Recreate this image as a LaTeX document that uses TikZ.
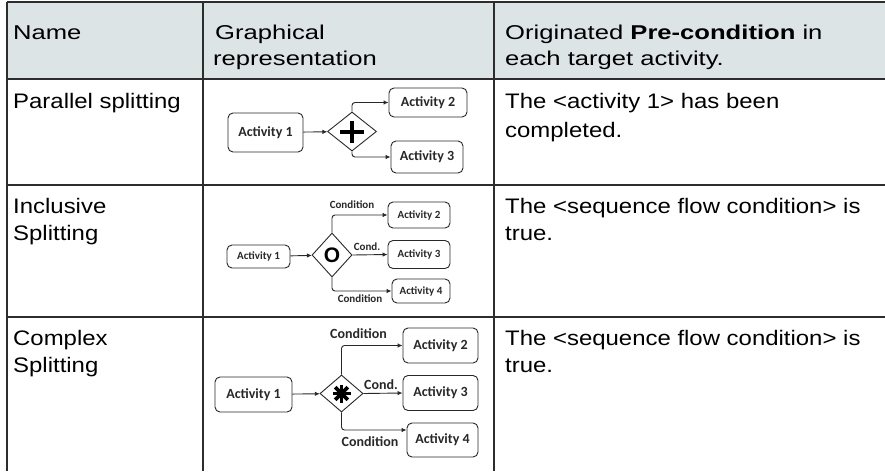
\documentclass[tikz,border=0pt]{standalone}
\usepackage{fontspec}
\setmainfont{Liberation Sans}
\newfontfamily\hdfont[FakeStretch=1.28]{Liberation Sans}
\newfontfamily\bdfont[FakeStretch=1.14]{Liberation Sans}
\newfontfamily\cbfont{Carlito}
\usetikzlibrary{shapes.geometric,arrows.meta}
\definecolor{hdr}{RGB}{221,228,230}
\definecolor{rulec}{RGB}{45,45,45}
\definecolor{ink}{RGB}{40,40,40}
\newcommand\dgA{\cbfont\bfseries\fontsize{14}{16}\selectfont}
\newcommand\dgB{\cbfont\bfseries\fontsize{11}{13}\selectfont}
\begin{document}
\begin{tikzpicture}[x=1pt,y=-1pt,
  hd/.style={anchor=base west,inner sep=0,font=\hdfont\fontsize{20}{24}\selectfont},
  bd/.style={anchor=base west,inner sep=0,font=\bdfont\fontsize{21}{25}\selectfont},
  act/.style={draw=ink,line width=0.9pt,rounded corners=5pt,inner sep=0,text=ink},
  gw/.style={draw=ink,line width=0.9pt,diamond,inner sep=0},
  lab/.style={inner sep=0,text=ink},
  flow/.style={draw=ink,line width=0.9pt,-{Latex[length=5pt,width=4.5pt]},rounded corners=3pt},
  tline/.style={draw=rulec,line width=1.4pt}]
\useasboundingbox (0,0) rectangle (885,471);
\fill[white] (0,0) rectangle (885,471);
\fill[hdr] (7,2) rectangle (885,79);
% table rules
\draw[tline] (7,2) -- (885,2);
\draw[tline] (7,79) -- (885,79);
\draw[tline] (7,185) -- (885,185);
\draw[tline] (7,317) -- (885,317);
\draw[tline] (7,2) -- (7,471);
\draw[tline] (203,2) -- (203,471);
\draw[tline] (494,2) -- (494,471);
% header
\node[hd] (h1) at (13,39) {Name};
\node[hd] (h2a) at (215,39) {Graphical};
\node[hd] (h2b) at (213,65) {representation};
\node[hd] (h3a) at (505,39) {Originated \textbf{Pre-condition} in};
\node[hd] (h3b) at (505,65) {each target activity.};
% body col 1
\node[bd] (n1) at (13,108) {Parallel splitting};
\node[bd] (n2a) at (13,213) {Inclusive};
\node[bd] (n2b) at (13,240) {Splitting};
\node[bd] (n3a) at (13,345) {Complex};
\node[bd] (n3b) at (13,372) {Splitting};
% body col 3
\node[bd] (p1a) at (505,108) {The <activity 1> has been};
\node[bd] (p1b) at (505,137) {completed.};
\node[bd] (p2a) at (505,213) {The <sequence flow condition> is};
\node[bd] (p2b) at (505,240) {true.};
\node[bd] (p3a) at (505,345) {The <sequence flow condition> is};
\node[bd] (p3b) at (505,372) {true.};
% ---- diagram 1: parallel
\node[act,font=\dgA,minimum width=75pt,minimum height=39pt] (a11) at (265.5,132.5) {Activity 1};
\node[gw,minimum width=49pt,minimum height=39pt] (g1) at (352,131.5) {};
\node[act,font=\dgA,minimum width=78pt,minimum height=29pt] (a12) at (428,102.5) {Activity 2};
\node[act,font=\dgA,minimum width=72pt,minimum height=32pt] (a13) at (427,157) {Activity 3};
\draw[black,line width=4pt] ([xshift=-12pt]g1.center) -- ([xshift=12pt]g1.center);
\draw[black,line width=4pt] ([yshift=-11pt]g1.center) -- ([yshift=11pt]g1.center);
\draw[flow] (a11) -- (g1);
\draw[flow] (g1.north) |- (a12.west);
\draw[flow] (g1.south) |- (a13.west);
% ---- diagram 2: inclusive
\node[act,font=\dgB,minimum width=63pt,minimum height=23pt] (a21) at (258.5,256.5) {Activity 1};
\node[gw,minimum width=40pt,minimum height=44pt] (g2) at (332,255) {};
\node[inner sep=0,font=\bfseries\fontsize{21}{21}\selectfont] (o2) at (g2.center) {O};
\node[act,font=\dgB,minimum width=62pt,minimum height=26pt] (a22) at (419,215) {Activity 2};
\node[act,font=\dgB,minimum width=62pt,minimum height=28pt] (a23) at (419,254.5) {Activity 3};
\node[act,font=\dgB,minimum width=58pt,minimum height=24pt] (a24) at (421,291) {Activity 4};
\draw[flow] (a21) -- (g2);
\draw[flow] (g2.north) |- (a22.west);
\draw[flow] (g2.east) -- (a23.west);
\draw[flow] (g2.south) |- (a24.west);
\node[lab,font=\dgB] (c21) at (352,205) {Condition};
\node[lab,font=\dgB] (c22) at (367,247) {Cond.};
\node[lab,font=\dgB] (c23) at (360,299) {Condition};
% ---- diagram 3: complex
\node[act,font=\dgA,minimum width=77pt,minimum height=35pt] (a31) at (253.5,394.5) {Activity 1};
\node[gw,minimum width=43pt,minimum height=37pt] (g3) at (341.5,393.5) {};
\node[act,font=\dgA,minimum width=75pt,minimum height=35pt] (a32) at (440.5,345.5) {Activity 2};
\node[act,font=\dgA,minimum width=75pt,minimum height=35pt] (a33) at (440.5,393) {Activity 3};
\node[act,font=\dgA,minimum width=71pt,minimum height=34pt] (a34) at (442.5,440) {Activity 4};
\foreach \ang in {0,45,90,135}
  \draw[black,line width=3.6pt] (g3.center) ++(\ang:9pt) -- ++(\ang+180:18pt);
\fill[black] (g3.center) circle (5pt);
\draw[flow] (a31) -- (g3);
\draw[flow] (g3.north) |- (a32.west);
\draw[flow] (g3.east) -- (a33.west);
\draw[flow] (g3.south) |- ([yshift=10pt]a34.west);
\node[lab,font=\dgA] (c31) at (358.5,334) {Condition};
\node[lab,font=\dgA] (c32) at (381,385) {Cond.};
\node[lab,font=\dgA] (c33) at (370,442) {Condition};
\end{tikzpicture}
\end{document}
